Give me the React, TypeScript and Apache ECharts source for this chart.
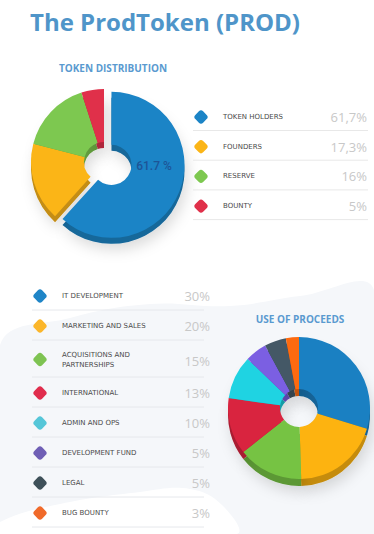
import React, { useEffect, useRef } from "react";
import * as echarts from "echarts";

const titleText = "The ProdToken (PROD)";
const distTitle = "TOKEN DISTRIBUTION";
const distNames = ["TOKEN HOLDERS", "FOUNDERS", "RESERVE", "BOUNTY"];
const distValues = [61.7, 17.3, 16, 5];
const distColors = ["#1b84c6", "#fbb517", "#7dc850", "#e0304a"];

const procTitle = "USE OF PROCEEDS";
const procNames = [
  "IT DEVELOPMENT",
  "MARKETING AND SALES",
  "ACQUISITIONS AND\nPARTNERSHIPS",
  "INTERNATIONAL",
  "ADMIN AND OPS",
  "DEVELOPMENT FUND",
  "LEGAL",
  "BUG BOUNTY",
];
const procValues = [30, 20, 15, 13, 10, 5, 5, 3];
const procColors = ["#1a80c2", "#fdb310", "#76c343", "#d9243f", "#1fd3e2", "#7b5fe2", "#445866", "#fd6a10"];
const procIconColors = ["#1f85c7", "#fbb62a", "#7ec352", "#e02d4d", "#55c6d8", "#6f5fb5", "#3e5059", "#f06a2a"];

function darken(hex: string, f: number) {
  const n = parseInt(hex.slice(1), 16);
  const r = Math.round(((n >> 16) & 255) * f);
  const g = Math.round(((n >> 8) & 255) * f);
  const b = Math.round((n & 255) * f);
  return "rgb(" + r + "," + g + "," + b + ")";
}

function fmtPct(v: number) {
  return String(v).replace(".", ",") + "%";
}

const labelFont = "7px 'DejaVu Sans', sans-serif";
const valueFont = "13px 'Open Sans', sans-serif";

function diamond(x: number, y: number, color: string) {
  return {
    type: "rect",
    x,
    y,
    rotation: Math.PI / 4,
    shape: { x: -5.5, y: -5.5, width: 11, height: 11, r: 3 },
    style: { fill: color },
    z: 5,
  };
}

export default function App() {
  const ref = useRef<HTMLDivElement>(null);
  useEffect(() => {
    if (!ref.current) return;
    const chart = echarts.init(ref.current, undefined, { renderer: "svg" });

    const graphics: any[] = [];
    // background shapes
    graphics.push({
      type: "polygon",
      shape: {
        points: [
          [0, 345], [70, 318], [150, 304], [230, 306], [300, 296], [374, 290],
          [374, 534], [0, 534],
        ],
        smooth: 0.4,
      },
      style: { fill: "#f5f7fa" },
      z: 0,
    });
    graphics.push({
      type: "polygon",
      shape: {
        points: [[0, 534], [0, 522], [60, 504], [140, 492], [190, 489], [222, 505], [236, 534]],
        smooth: 0.4,
      },
      style: { fill: "#ffffff" },
      z: 0,
    });

    graphics.push({
      type: "text",
      x: 30,
      y: 21,
      style: {
        text: titleText,
        fill: "#4f95c9",
        font: "bold 24px 'Open Sans', sans-serif",
        align: "left",
        verticalAlign: "middle",
      },
      z: 5,
    });
    graphics.push({
      type: "text",
      x: 113,
      y: 68,
      style: {
        text: distTitle,
        fill: "#5a9ad0",
        font: "bold 10px 'Open Sans', sans-serif",
        align: "center",
        verticalAlign: "middle",
      },
      z: 5,
    });
    graphics.push({
      type: "text",
      x: 300,
      y: 319,
      style: {
        text: procTitle,
        fill: "#5a9ad0",
        font: "bold 10px 'Open Sans', sans-serif",
        align: "center",
        verticalAlign: "middle",
      },
      z: 5,
    });
    graphics.push({
      type: "text",
      x: 154,
      y: 166,
      style: {
        text: distValues[0] + " %",
        fill: "#1d5597",
        font: "500 12px Roboto, sans-serif",
        align: "center",
        verticalAlign: "middle",
      },
      z: 100,
    });

    // legend 1
    distNames.forEach((name, i) => {
      const cy = 117 + i * 29.7;
      graphics.push(diamond(201, cy, distColors[i]));
      graphics.push({
        type: "text",
        x: 223,
        y: cy,
        style: { text: name, fill: "#4a4a4a", font: labelFont, align: "left", verticalAlign: "middle" },
        z: 5,
      });
      graphics.push({
        type: "text",
        x: 367,
        y: cy,
        style: { text: fmtPct(distValues[i]), fill: "#c8c8c8", font: valueFont, align: "right", verticalAlign: "middle" },
        z: 5,
      });
      graphics.push({
        type: "line",
        shape: { x1: 193, y1: cy + 13.5, x2: 368, y2: cy + 13.5 },
        style: { stroke: "#e8e8e8", lineWidth: 1 },
        z: 5,
      });
    });

    // legend 2
    let top = 281;
    procNames.forEach((name, i) => {
      const lines = name.split("\n").length;
      const h = lines > 1 ? 37 : 30;
      const cy = top + h / 2;
      graphics.push(diamond(40, cy, procIconColors[i]));
      graphics.push({
        type: "text",
        x: 62,
        y: cy,
        style: {
          text: name,
          fill: "#4a4a4a",
          font: labelFont,
          lineHeight: 10,
          align: "left",
          verticalAlign: "middle",
        },
        z: 5,
      });
      graphics.push({
        type: "text",
        x: 210,
        y: cy + (lines > 1 ? 1 : 0),
        style: { text: procValues[i] + "%", fill: "#c8c8c8", font: valueFont, align: "right", verticalAlign: "middle" },
        z: 5,
      });
      graphics.push({
        type: "line",
        shape: { x1: 32, y1: top + h - 1, x2: 204, y2: top + h - 1 },
        style: { stroke: "#e6e8ec", lineWidth: 1 },
        z: 5,
      });
      top += h;
    });

    const pieBase = (center: number[], radius: number[], names: string[], values: number[], colors: string[], dark: boolean, sel: number) => ({
      type: "pie",
      center,
      radius,
      startAngle: 90,
      clockwise: true,
      silent: true,
      selectedMode: "single",
      selectedOffset: 8,
      label: { show: false },
      labelLine: { show: false },
      emphasis: { disabled: true },
      z: dark ? 2 : 3,
      itemStyle: dark
        ? { shadowBlur: 14, shadowColor: "rgba(0,0,0,0.14)", shadowOffsetY: 6, shadowOffsetX: 3 }
        : {},
      data: values.map((v, i) => ({
        value: v,
        name: names[i],
        selected: i === sel,
        itemStyle: { color: dark ? darken(colors[i], 0.78) : colors[i] },
      })),
    });

    chart.setOption({
      animation: false,
      backgroundColor: "#ffffff",
      graphic: { elements: graphics },
      series: [
        pieBase([104, 168], [20, 73], distNames, distValues, distColors, true, 0),
        pieBase([104, 162], [20, 73], distNames, distValues, distColors, false, 0),
        pieBase([299, 415], [19, 71], procNames, procValues, procColors, true, -1),
        pieBase([299, 408], [19, 71], procNames, procValues, procColors, false, -1),
      ],
    });
    return () => chart.dispose();
  }, []);
  return (
    <div
      ref={ref}
      style={{ position: "fixed", left: 0, top: 0, width: 374, height: 534 }}
    />
  );
}
